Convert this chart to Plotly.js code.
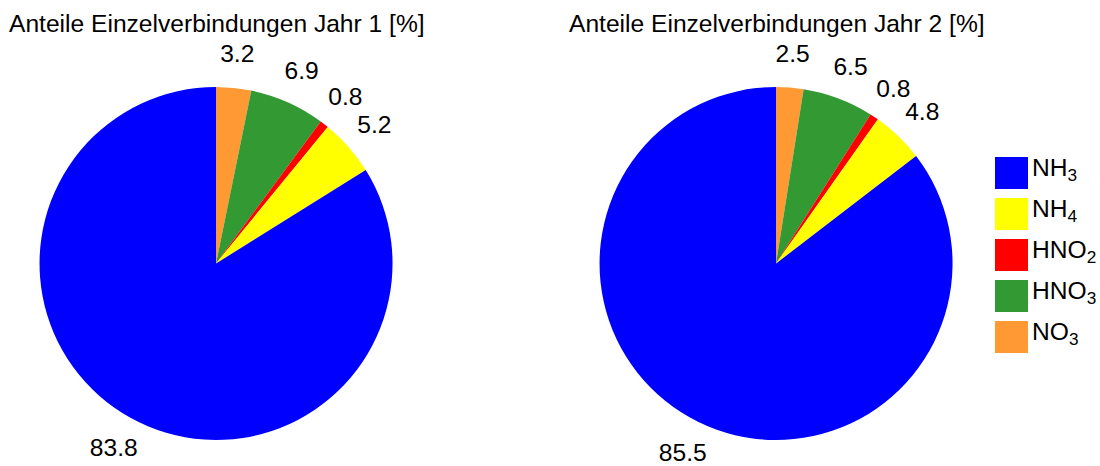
<!DOCTYPE html>
<html>
<head>
<meta charset="utf-8">
<script src="https://cdn.plot.ly/plotly-3.0.1.min.js"></script>
<style>html,body{margin:0;padding:0;background:#fff;}#chart{width:1100px;height:466px;}path.textline{display:none;}</style>
</head>
<body>
<div id="chart"></div>
<script>
const categories = ["NH<sub>3</sub>", "NH<sub>4</sub>", "HNO<sub>2</sub>", "HNO<sub>3</sub>", "NO<sub>3</sub>"];
const valuesYear1 = [83.8, 5.2, 0.8, 6.9, 3.2];
const valuesYear2 = [85.5, 4.8, 0.8, 6.5, 2.5];
const colors = ["#0000FF", "#FFFF00", "#FF0000", "#339933", "#FF9933"];
const titles = ["Anteile Einzelverbindungen Jahr 1 [%]", "Anteile Einzelverbindungen Jahr 2 [%]"];

const FONT = "Arial, 'Liberation Sans', sans-serif";
const FS = 24.6;
const LABEL_RADIUS_FACTOR = 1.195;

function pieTrace(values, domainX) {
  // slices drawn clockwise from 12 o'clock, starting with the last category
  const vals = values.slice().reverse();
  return {
    type: "pie",
    labels: categories.slice().reverse(),
    values: vals,
    text: vals.map(v => v.toFixed(1)),
    textinfo: "text",
    textposition: "outside",
    sort: false,
    direction: "clockwise",
    rotation: 0,
    marker: {colors: colors.slice().reverse(), line: {width: 0}},
    outsidetextfont: {family: FONT, size: FS, color: "#000"},
    hoverinfo: "label+value",
    showlegend: false,
    domain: {x: domainX, y: [0, 1]}
  };
}

const data = [
  pieTrace(valuesYear1, [0.0355, 0.3573]),
  pieTrace(valuesYear2, [0.5446, 0.8664])
];

const annotations = [
  {text: titles[0], x: 0.197, xref: "paper", xanchor: "center", y: 1.0, yref: "paper", yanchor: "bottom", yshift: 48, showarrow: false, font: {family: FONT, size: FS, color: "#000"}},
  {text: titles[1], x: 0.706, xref: "paper", xanchor: "center", y: 1.0, yref: "paper", yanchor: "bottom", yshift: 48, showarrow: false, font: {family: FONT, size: FS, color: "#000"}}
];
const shapes = [];
const legendX0 = 995, legendW = 33, legendH = 32, legendTop = 157, legendStep = 41;
categories.forEach((c, i) => {
  const y0 = legendTop + i * legendStep;
  shapes.push({type: "rect", xref: "paper", yref: "paper",
    x0: legendX0 / 1100, x1: (legendX0 + legendW) / 1100,
    y0: 1 - ((y0 + legendH) - 87) / 353, y1: 1 - (y0 - 87) / 353,
    fillcolor: colors[i], line: {width: 0}});
  annotations.push({text: c, xref: "paper", yref: "paper",
    x: (legendX0 + legendW + 2) / 1100, xanchor: "left",
    y: 1 - ((y0 + legendH / 2) - 87) / 353, yanchor: "middle", yshift: 4,
    showarrow: false, font: {family: FONT, size: FS, color: "#000"}});
});

const layout = {
  width: 1100, height: 466,
  margin: {l: 0, r: 0, t: 87, b: 26},
  paper_bgcolor: "#fff",
  plot_bgcolor: "#fff",
  showlegend: false,
  annotations: annotations,
  shapes: shapes,
  font: {family: FONT}
};

const gd = document.getElementById("chart");
Plotly.newPlot(gd, data, layout, {displayModeBar: false, staticPlot: true}).then(() => {
  // place each value label centred on its slice's mid-angle, a little outside the rim,
  // using the slice geometry that Plotly itself computed
  gd.querySelectorAll(".pielayer g.trace").forEach(traceEl => {
    const cd = traceEl.__data__;
    if (!cd || !cd[0]) return;
    const cx = cd[0].cx, cy = cd[0].cy;
    traceEl.querySelectorAll("g.slice").forEach(sliceEl => {
      const pt = sliceEl.__data__;
      const txt = sliceEl.querySelector("text.slicetext");
      if (!pt || !txt || !pt.pxmid) return;
      const tx = cx + pt.pxmid[0] * LABEL_RADIUS_FACTOR;
      const ty = cy + pt.pxmid[1] * LABEL_RADIUS_FACTOR;
      txt.setAttribute("transform", "");
      const bb = txt.getBBox();
      txt.setAttribute("transform",
        "translate(" + (tx - bb.x - bb.width / 2) + "," + (ty - bb.y - bb.height / 2) + ")");
    });
  });
});
</script>
</body>
</html>
